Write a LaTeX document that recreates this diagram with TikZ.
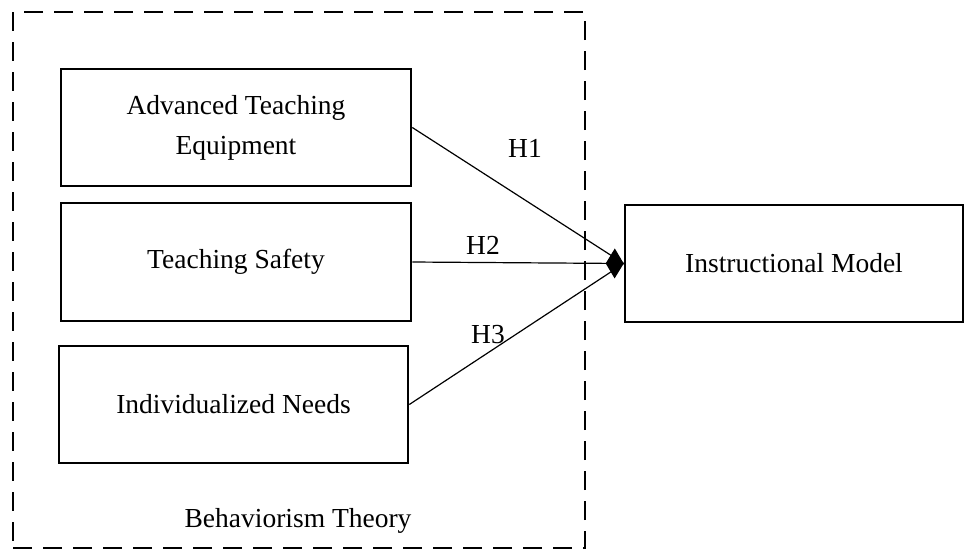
\documentclass[tikz,border=0pt]{standalone}
\usepackage{fontspec}
\setmainfont{Liberation Serif}
\usetikzlibrary{arrows.meta}
\begin{document}
\begin{tikzpicture}[x=1pt,y=-1pt,
  box/.style={draw, line width=2.6pt, rectangle, align=center, font=\fontsize{27.5}{40}\selectfont, inner sep=0pt},
  lbl/.style={font=\fontsize{27.5}{33}\selectfont, inner sep=0pt},
  conn/.style={line width=1.2pt},
  frame/.style={draw, line width=2.6pt, dash pattern=on 19pt off 11pt}]
\useasboundingbox (0,0) rectangle (965,552);
\node[frame, minimum width=572pt, minimum height=536pt, inner sep=0pt] (theory) at (299,280) {};
\node[box, minimum width=350pt, minimum height=117pt] (ate) at (236,127.5) {Advanced Teaching\\Equipment};
\node[box, minimum width=350pt, minimum height=118pt] (ts) at (236,262) {Teaching Safety};
\node[box, minimum width=349pt, minimum height=117pt] (ind) at (233.5,404.5) {Individualized Needs};
\node[box, minimum width=338pt, minimum height=117pt] (im) at (794,263.5) {Instructional Model};
\draw[conn] (ate.east) -- (im.west);
\draw[conn] (ind.east) -- (im.west);
\draw[conn, -{Diamond[length=18pt, width=30pt]}] (ts.east) -- (im.west);
\node[lbl] (h1) at (525,148) {H1};
\node[lbl] (h2) at (483,245) {H2};
\node[lbl] (h3) at (488,335) {H3};
\node[lbl] (bt) at (298,521) {Behaviorism Theory};
\end{tikzpicture}
\end{document}
